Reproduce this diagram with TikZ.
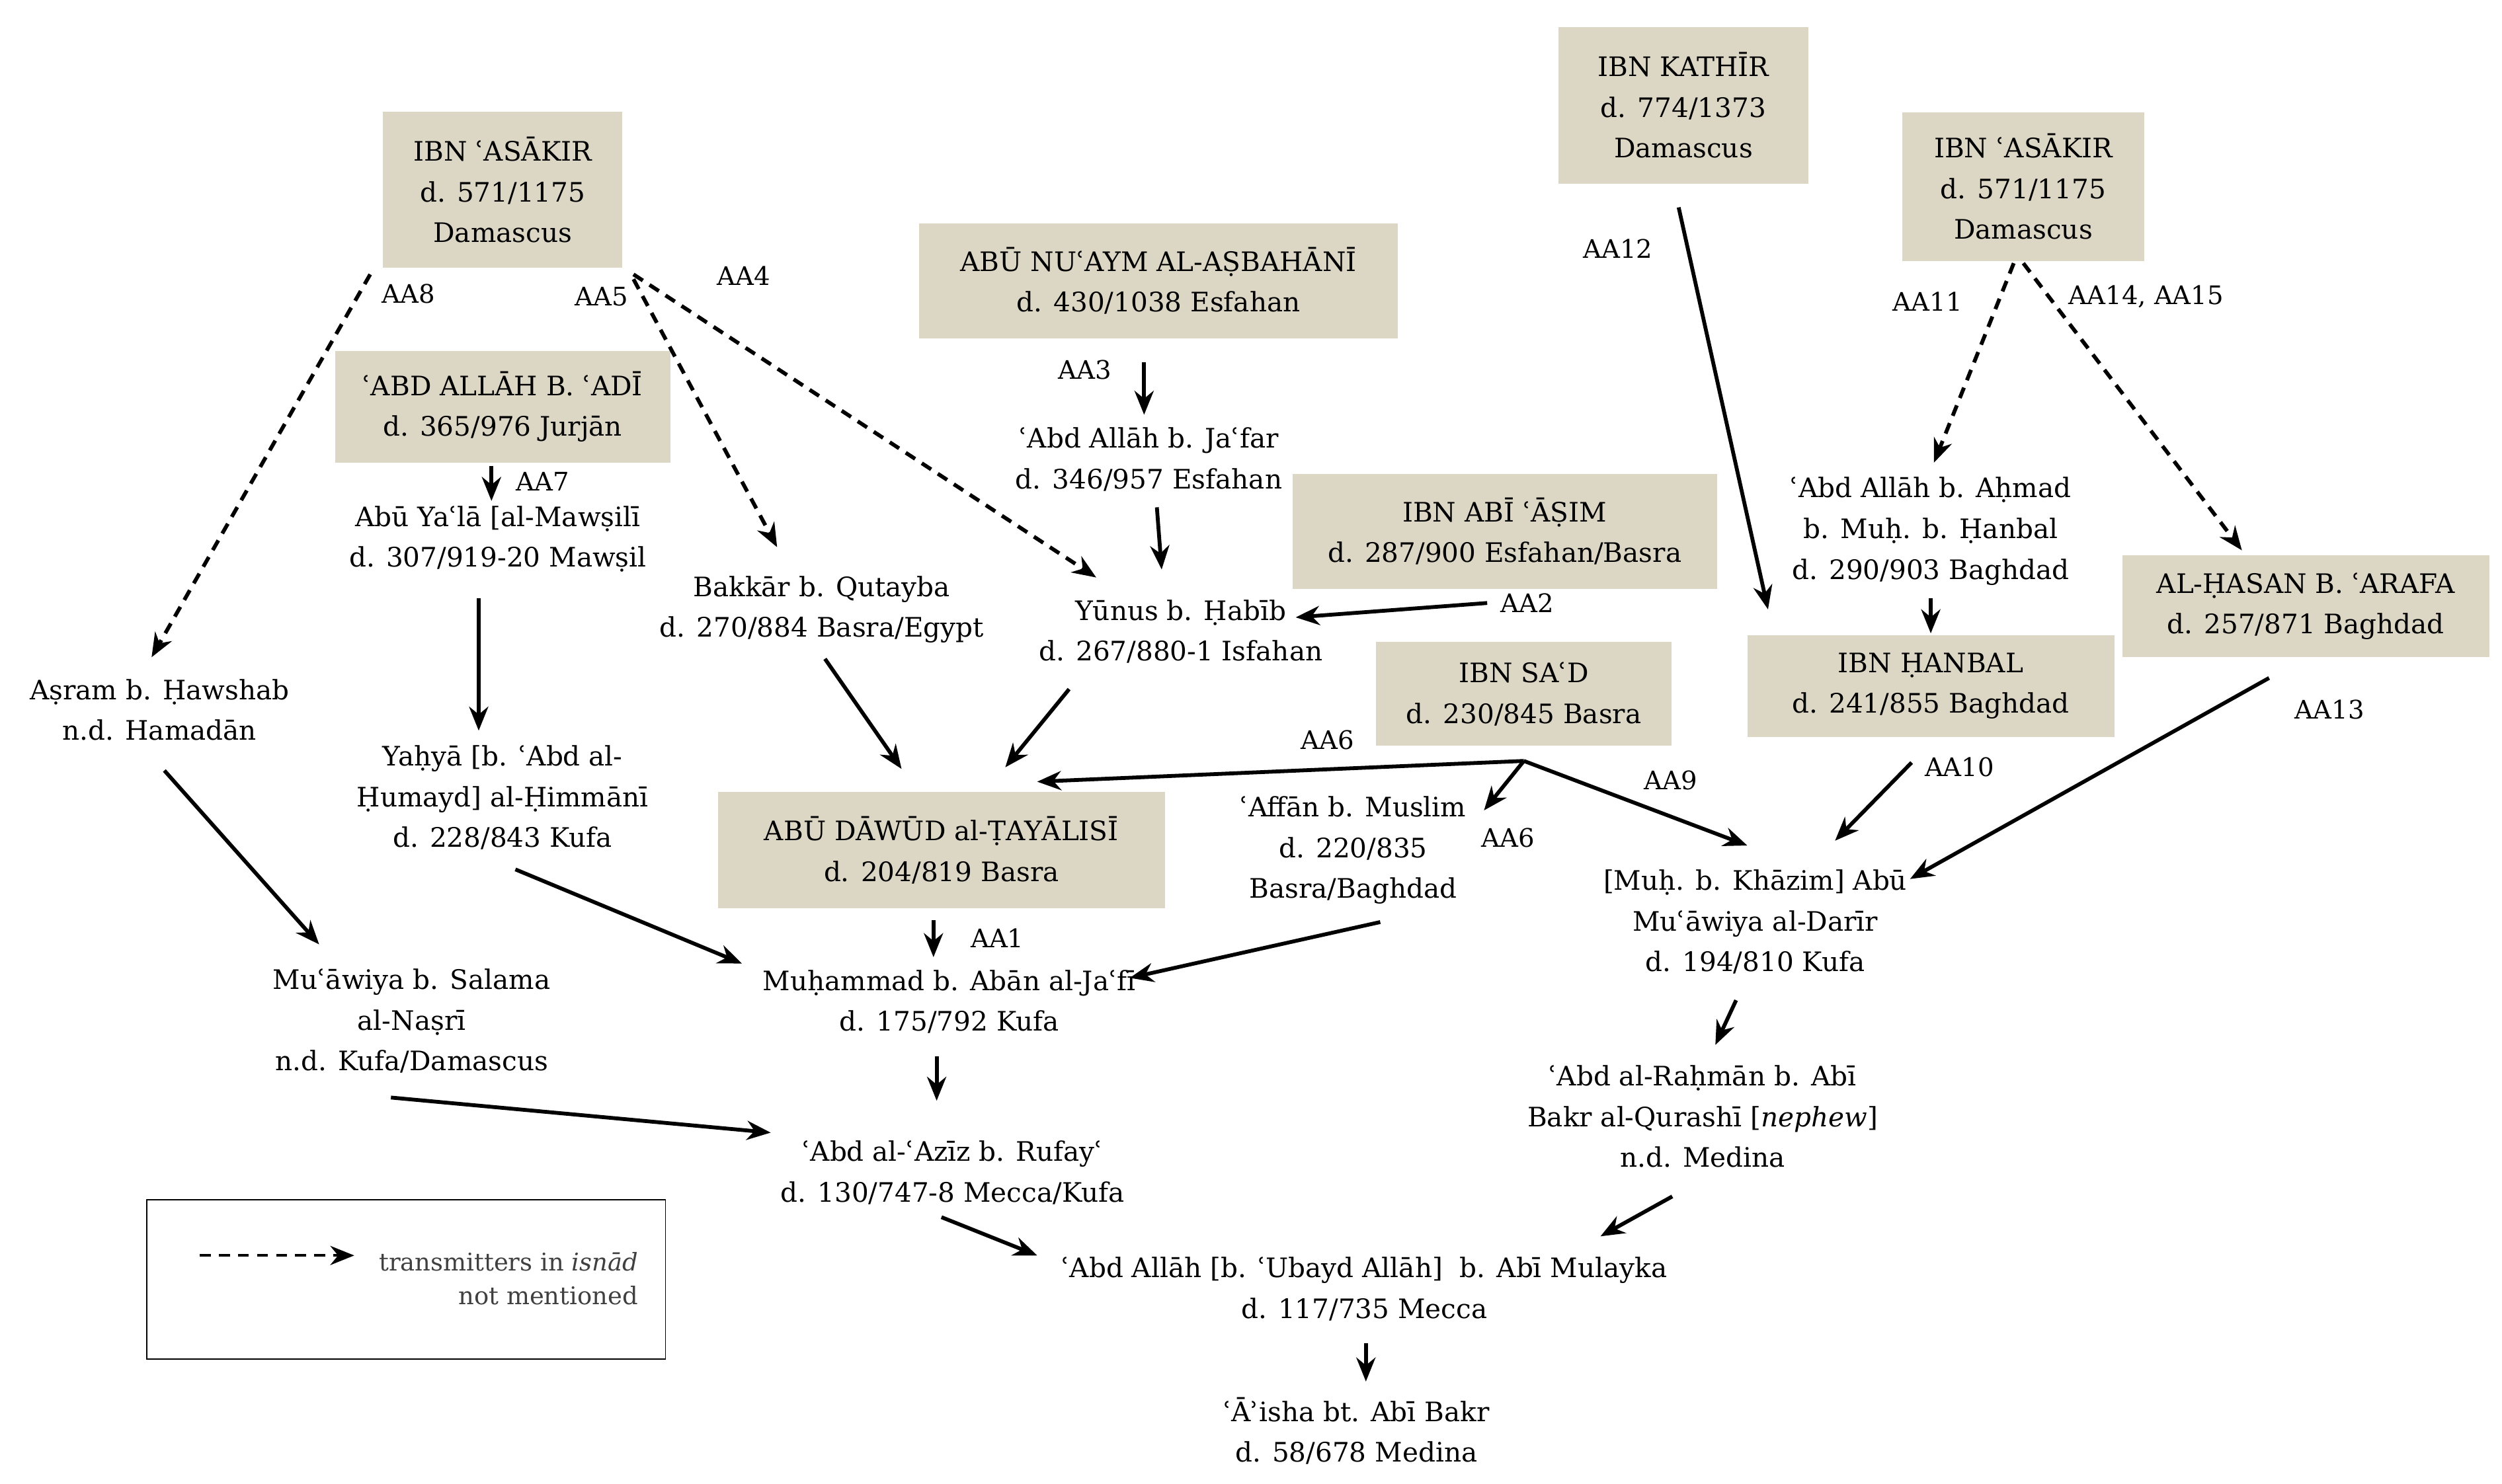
\documentclass[tikz,border=0pt]{standalone}
\usepackage{fontspec}
\setmainfont{DejaVu Serif}
\usetikzlibrary{arrows.meta}
\definecolor{boxc}{RGB}{220,214,196}
\begin{document}
\begin{tikzpicture}[x=1pt,y=-1pt,
  every node/.style={font=\fontsize{16.8}{25.5}\selectfont,align=center,inner sep=0pt},
  bx/.style={fill=boxc},
  lbl/.style={font=\fontsize{16}{18}\selectfont},
  ar/.style={line width=2.4pt,-{Stealth[length=15pt,width=12pt]}},
  da/.style={ar,dash pattern=on 7pt off 5pt}]
\useasboundingbox (0,0) rectangle (1568,930);
% boxes
\node[bx,minimum width=150,minimum height=98] (asL) at (315,119) {IBN ʿASĀKIR\\d. 571/1175\\Damascus};
\node[bx,minimum width=157,minimum height=98] (kat) at (1055,66) {IBN KATHĪR\\d. 774/1373\\Damascus};
\node[bx,minimum width=152,minimum height=93] (asR) at (1268,117) {IBN ʿASĀKIR\\d. 571/1175\\Damascus};
\node[bx,minimum width=300,minimum height=72] (nuaym) at (726,176) {ABŪ NUʿAYM AL-AṢBAHĀNĪ\\d. 430/1038 Esfahan};
\node[bx,minimum width=210,minimum height=70] (adi) at (315,255) {ʿABD ALLĀH B. ʿADĪ\\d. 365/976 Jurjān};
\node[bx,minimum width=266,minimum height=72] (asim) at (943,333) {IBN ABĪ ʿĀṢIM\\d. 287/900 Esfahan/Basra};
\node[bx,minimum width=185,minimum height=65] (sad) at (955,435) {IBN SAʿD\\d. 230/845 Basra};
\node[bx,minimum width=230,minimum height=64] (hanbal) at (1210,430) {IBN ḤANBAL\\d. 241/855 Baghdad};
\node[bx,minimum width=230,minimum height=64] (arafa) at (1445,380) {AL-ḤASAN B. ʿARAFA\\d. 257/871 Baghdad};
\node[bx,minimum width=280,minimum height=73] (dawud) at (590,533) {ABŪ DĀWŪD al-ṬAYĀLISĪ\\d. 204/819 Basra};
% plain
\node (jafar) at (720,288) {ʿAbd Allāh b. Jaʿfar\\d. 346/957 Esfahan};
\node (yala) at (312,338) {Abū Yaʿlā [al-Mawṣilī\\d. 307/919-20 Mawṣil};
\node (bakkar) at (515,382) {Bakkār b. Qutayba\\d. 270/884 Basra/Egypt};
\node (yunus) at (740,396) {Yūnus b. Ḥabīb\\d. 267/880-1 Isfahan};
\node (ahmad) at (1210,333) {ʿAbd Allāh b. Aḥmad\\b. Muḥ. b. Ḥanbal\\d. 290/903 Baghdad};
\node (asram) at (100,445) {Aṣram b. Ḥawshab\\n.d. Hamadān};
\node (yahya) at (315,500) {Yaḥyā [b. ʿAbd al-\\Ḥumayd] al-Ḥimmānī\\d. 228/843 Kufa};
\node (affan) at (848,533) {ʿAffān b. Muslim\\d. 220/835\\Basra/Baghdad};
\node (khazim) at (1100,578) {[Muḥ. b. Khāzim] Abū\\Muʿāwiya al-Darīr\\d. 194/810 Kufa};
\node (salama) at (258,640) {Muʿāwiya b. Salama\\al-Naṣrī\\n.d. Kufa/Damascus};
\node (aban) at (595,628) {Muḥammad b. Abān al-Jaʿfī\\d. 175/792 Kufa};
\node (rahman) at (1067,700) {ʿAbd al-Raḥmān b. Abī\\Bakr al-Qurashī [\textit{nephew}]\\n.d. Medina};
\node (aziz) at (597,735) {ʿAbd al-ʿAzīz b. Rufayʿ\\d. 130/747-8 Mecca/Kufa};
\node (mulayka) at (855,808) {ʿAbd Allāh [b. ʿUbayd Allāh]\ \ b. Abī Mulayka\\d. 117/735 Mecca};
\node (aisha) at (850,897) {ʿĀʾisha bt. Abī Bakr\\d. 58/678 Medina};
% labels
\node[lbl] at (256,184) {AA8};
\node[lbl] at (377,186) {AA5};
\node[lbl] at (466,173) {AA4};
\node[lbl] at (680,232) {AA3};
\node[lbl] at (340,302) {AA7};
\node[lbl] at (957,378) {AA2};
\node[lbl] at (1014,156) {AA12};
\node[lbl] at (1208,189) {AA11};
\node[lbl] at (1345,186) {AA14, AA15};
\node[lbl] at (1460,445) {AA13};
\node[lbl] at (1228,481) {AA10};
\node[lbl] at (832,464) {AA6};
\node[lbl] at (945,525) {AA6};
\node[lbl] at (1047,489) {AA9};
\node[lbl] at (625,588) {AA1};
% endpoints
\coordinate (a1) at (232,172); \coordinate (a2) at (95,412);
\coordinate (b1) at (397,175); \coordinate (b2) at (487,343);
\coordinate (c1) at (397,172); \coordinate (c2) at (687,362);
\coordinate (d1) at (717,227); \coordinate (d2) at (717,260);
\coordinate (e1) at (308,292); \coordinate (e2) at (308,314);
\coordinate (f1) at (300,375); \coordinate (f2) at (300,458);
\coordinate (g1) at (725,318); \coordinate (g2) at (728,357);
\coordinate (h1) at (932,378); \coordinate (h2) at (812,387);
\coordinate (i1) at (1052,130); \coordinate (i2) at (1108,382);
\coordinate (j1) at (1262,165); \coordinate (j2) at (1212,290);
\coordinate (k1) at (1268,165); \coordinate (k2) at (1405,345);
\coordinate (l1) at (1210,375); \coordinate (l2) at (1210,397);
\coordinate (m1) at (1422,425); \coordinate (m2) at (1197,551);
\coordinate (n1) at (1198,478); \coordinate (n2) at (1150,527);
\coordinate (o1) at (955,477); \coordinate (o2) at (650,490);
\coordinate (o3) at (930,508); \coordinate (o4) at (1095,530);
\coordinate (p1) at (517,413); \coordinate (p2) at (565,482);
\coordinate (q1) at (670,432); \coordinate (q2) at (630,481);
\coordinate (r1) at (585,577); \coordinate (r2) at (585,600);
\coordinate (s1) at (323,545); \coordinate (s2) at (465,604);
\coordinate (t1) at (865,578); \coordinate (t2) at (708,613);
\coordinate (u1) at (103,483); \coordinate (u2) at (200,592);
\coordinate (v1) at (587,662); \coordinate (v2) at (587,690);
\coordinate (w1) at (245,688); \coordinate (w2) at (483,710);
\coordinate (x1) at (1088,627); \coordinate (x2) at (1075,655);
\coordinate (y1) at (590,763); \coordinate (y2) at (650,787);
\coordinate (z1) at (1048,750); \coordinate (z2) at (1003,775);
\coordinate (zz1) at (856,842); \coordinate (zz2) at (856,866);
\coordinate (L1) at (125,787); \coordinate (L2) at (222,787);
\draw[da] (a1)--(a2); \draw[da] (b1)--(b2); \draw[da] (c1)--(c2);
\draw[da] (j1)--(j2); \draw[da] (k1)--(k2);
\draw[ar] (d1)--(d2); \draw[ar] (e1)--(e2); \draw[ar] (f1)--(f2);
\draw[ar] (g1)--(g2); \draw[ar] (h1)--(h2); \draw[ar] (i1)--(i2);
\draw[ar] (l1)--(l2); \draw[ar] (m1)--(m2); \draw[ar] (n1)--(n2);
\draw[ar] (o1)--(o2); \draw[ar] (o1)--(o3); \draw[ar] (o1)--(o4);
\draw[ar] (p1)--(p2); \draw[ar] (q1)--(q2); \draw[ar] (r1)--(r2);
\draw[ar] (s1)--(s2); \draw[ar] (t1)--(t2); \draw[ar] (u1)--(u2);
\draw[ar] (v1)--(v2); \draw[ar] (w1)--(w2); \draw[ar] (x1)--(x2);
\draw[ar] (y1)--(y2); \draw[ar] (z1)--(z2); \draw[ar] (zz1)--(zz2);
% legend
\node[draw,line width=0.6pt,minimum width=325,minimum height=100] (leg) at (254.5,802) {};
\draw[ar,line width=1.8pt,dash pattern=on 7pt off 5pt] (L1)--(L2);
\node[align=right,anchor=north east,font=\fontsize{15.3}{21}\selectfont,text=black!75] (legt) at (400,785) {transmitters in \textit{isnād}\\not mentioned};
\end{tikzpicture}
\end{document}
